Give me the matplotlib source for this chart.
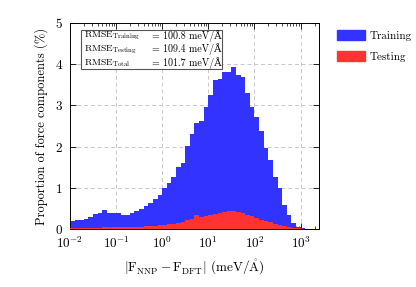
import numpy as np
import matplotlib
matplotlib.use("Agg")
import matplotlib.pyplot as plt
from matplotlib.patches import Patch, Rectangle

plt.rcParams["font.family"] = ["cmr10", "DejaVu Serif"]
plt.rcParams["mathtext.fontset"] = "cm"
plt.rcParams["axes.formatter.use_mathtext"] = True

# log10 bin edges, 10 bins per decade from 1e-2 to 10^3.4
log_edges = np.arange(-2.0, 3.45, 0.1)
edges = 10 ** log_edges

# proportion of force components (%) per bin
training = [0.20, 0.21, 0.22, 0.25, 0.30, 0.36, 0.40, 0.45, 0.38, 0.40,
            0.38, 0.35, 0.34, 0.40, 0.445, 0.49, 0.56, 0.62, 0.72, 0.83,
            1.00, 1.12, 1.27, 1.50, 1.61, 2.01, 2.31, 2.58, 2.62, 2.97,
            3.25, 3.62, 3.64, 3.82, 3.80, 3.94, 3.74, 3.68, 3.29, 2.97,
            2.71, 2.38, 1.96, 1.67, 1.27, 1.00, 0.58, 0.34, 0.14, 0.06,
            0.02, 0.01, 0.005, 0.003]
testing = [0.02, 0.02, 0.025, 0.025, 0.03, 0.03, 0.035, 0.04, 0.04, 0.04,
           0.045, 0.045, 0.05, 0.05, 0.055, 0.06, 0.065, 0.07, 0.08, 0.09,
           0.10, 0.11, 0.12, 0.14, 0.17, 0.21, 0.25, 0.35, 0.29, 0.32,
           0.34, 0.37, 0.40, 0.42, 0.44, 0.43, 0.42, 0.39, 0.35, 0.31,
           0.27, 0.23, 0.19, 0.16, 0.13, 0.10, 0.07, 0.05, 0.03, 0.015,
           0.008, 0.004, 0.002, 0.001]

rmse_names = ["Training", "Testing", "Total"]
rmse_values = [100.8, 109.4, 101.7]

blue = (0.2, 0.2, 1.0)
red = (1.0, 0.2, 0.2)

fig = plt.figure(figsize=(4.16, 2.87), dpi=100)
ax = fig.add_axes([0.168, 0.202, 0.599, 0.718])

ax.stairs(training, edges, fill=True, color=blue, zorder=2)
ax.stairs(testing, edges, fill=True, color=red, zorder=3)

ax.set_xscale("log")
ax.set_xlim(1e-2, 10 ** 3.4)
ax.set_ylim(0, 5)
ax.set_yticks([0, 1, 2, 3, 4, 5])
ax.grid(True, which="major", linestyle=(0, (4, 3)), color="#c8c8c8", linewidth=0.7, zorder=0)
ax.set_axisbelow(True)
ax.tick_params(which="both", direction="in", top=True, right=True, labelsize=9.5)
ax.tick_params(axis="y", pad=5)
ax.tick_params(axis="x", pad=5)
ax.tick_params(which="major", length=4, width=0.6)
ax.tick_params(which="minor", length=2, width=0.5)
for s in ax.spines.values():
    s.set_linewidth(0.7)

ax.set_xlabel(r"$|\mathrm{F}_{\mathrm{NNP}} - \mathrm{F}_{\mathrm{DFT}}|$ (meV/$\mathring{\mathrm{A}}$)",
              fontsize=9.5, labelpad=4)
ax.set_ylabel("Proportion of force components (%)", fontsize=9, labelpad=5)

# RMSE box
box = Rectangle((0.045, 0.778), 0.565, 0.186, transform=ax.transAxes,
                facecolor="white", edgecolor="#555555", linewidth=0.8, zorder=5)
ax.add_patch(box)
for i, (n, v) in enumerate(zip(rmse_names, rmse_values)):
    y = 0.935 - i * 0.064
    ax.text(0.055, y, r"$\mathrm{RMSE}_{\mathrm{%s}}$" % n, transform=ax.transAxes,
            fontsize=7, va="center", ha="left", zorder=6)
    ax.text(0.33, y, "= %.1f meV/Å" % v, transform=ax.transAxes,
            fontsize=7.2, va="center", ha="left", zorder=6)

handles = [Patch(facecolor=blue, edgecolor=blue, label="Training"),
           Patch(facecolor=red, edgecolor=red, label="Testing")]
fig.legend(handles=handles, loc="upper left", bbox_to_anchor=(0.81, 0.895),
           frameon=False, fontsize=8, handlelength=2.5, handleheight=1.0,
           labelspacing=0.9, handletextpad=0.45, borderpad=0, borderaxespad=0)

fig.savefig("out.png", dpi=100)
